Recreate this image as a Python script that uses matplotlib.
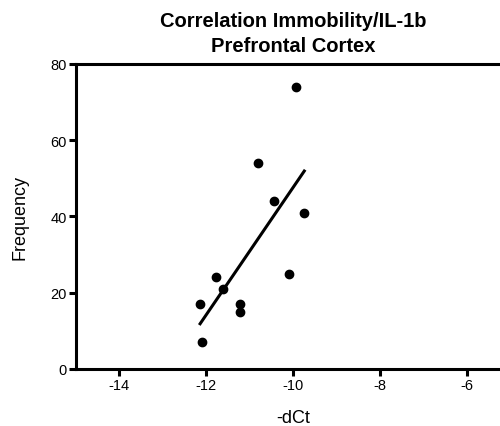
import numpy as np
import matplotlib.pyplot as plt

plt.rcParams['font.family'] = ['Liberation Sans', 'DejaVu Sans']
plt.rcParams['axes.unicode_minus'] = False

# -dCt vs immobility frequency, prefrontal cortex
dct = [-9.93, -10.81, -10.43, -9.74, -10.09, -11.78, -11.62, -12.14, -11.21, -11.21, -12.09]
freq = [74, 54, 44, 41, 25, 24, 21, 17, 17, 15, 7]
xticks = [-14, -12, -10, -8, -6]
yticks = [0, 20, 40, 60, 80]

x = np.array(dct)
y = np.array(freq)
slope, intercept = np.polyfit(x, y, 1)
xfit = np.array([x.min(), x.max()])

fig = plt.figure(figsize=(5, 4.27), dpi=100)
ax = fig.add_axes([0.152, 0.1335, 0.868, 0.7143])

ax.plot(x, y, 'o', color='black', markersize=6, clip_on=False)
ax.plot(xfit, slope * xfit + intercept, color='black', lw=2.2)

ax.set_xlim(-15, -5)
ax.set_ylim(0, 80)
ax.set_xticks(xticks)
ax.set_yticks(yticks)
for s in ax.spines.values():
    s.set_linewidth(2.2)
ax.tick_params(width=2.2, length=5, labelsize=10.5, pad=1.5)

ax.set_xlabel('-dCt', fontsize=13, labelpad=12)
ax.set_ylabel('Frequency', fontsize=13, labelpad=16)
ax.set_title('Correlation Immobility/IL-1b\nPrefrontal Cortex', fontsize=14.5,
             fontweight='bold', pad=9.5, linespacing=1.38)

fig.savefig('out.png', dpi=100)
